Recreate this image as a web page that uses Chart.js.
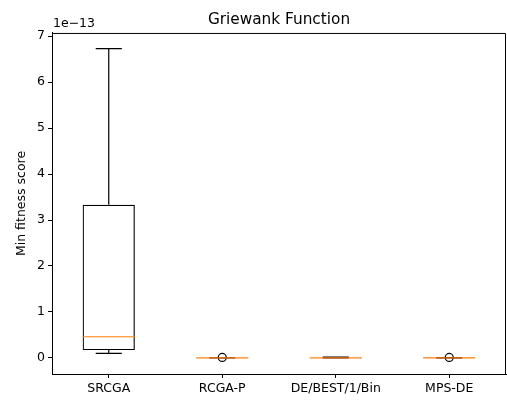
<!DOCTYPE html>
<html>
<head>
<meta charset="utf-8">
<script src="https://cdn.jsdelivr.net/npm/chart.js@4"></script>
<style>
  html, body { margin: 0; padding: 0; background: #fff; }
  #wrap { width: 507px; height: 401px; }
</style>
</head>
<body>
<div id="wrap"><canvas id="box-chart"></canvas></div>
<script>
// values are in units of 1e-13
const categories = ["SRCGA", "RCGA-P", "DE/BEST/1/Bin", "MPS-DE"];
const whiskerLow = [0.10, 0, 0, 0];
const q1 = [0.17, 0, 0, 0];
const median = [0.46, 0, 0, 0];
const q3 = [3.33, 0, 0, 0.005];
const whiskerHigh = [6.73, 0.003, 0.02, 0.008];
const outliers = [null, 0.01, null, 0.01];
const yTicks = [0, 1, 2, 3, 4, 5, 6, 7];

const FONT = "'DejaVu Sans', sans-serif";

// whiskers, caps, medians and the top/right frame
const boxExtras = {
    id: "boxExtras",
    afterDatasetsDraw(chart) {
        const ctx = chart.ctx;
        const x = chart.scales.x, y = chart.scales.y;
        const half = chart.getDatasetMeta(0).data[0].width / 2;
        ctx.save();
        ctx.lineWidth = 1.2;
        categories.forEach((c, i) => {
            const cx = x.getPixelForValue(i);
            const yq1 = y.getPixelForValue(q1[i]);
            const yq3 = y.getPixelForValue(q3[i]);
            const ylo = y.getPixelForValue(whiskerLow[i]);
            const yhi = y.getPixelForValue(whiskerHigh[i]);
            ctx.strokeStyle = "#000";
            ctx.beginPath();
            ctx.moveTo(cx, yq3); ctx.lineTo(cx, yhi);
            ctx.moveTo(cx, yq1); ctx.lineTo(cx, ylo);
            ctx.moveTo(cx - half / 2, yhi); ctx.lineTo(cx + half / 2, yhi);
            ctx.moveTo(cx - half / 2, ylo); ctx.lineTo(cx + half / 2, ylo);
            ctx.stroke();
            ctx.strokeStyle = "#ff7f0e";
            const ym = y.getPixelForValue(median[i]);
            ctx.beginPath();
            ctx.moveTo(cx - half, ym); ctx.lineTo(cx + half, ym);
            ctx.stroke();
        });
        const a = chart.chartArea;
        ctx.strokeStyle = "#000";
        ctx.lineWidth = 1;
        ctx.beginPath();
        ctx.moveTo(a.left, a.top + 0.5); ctx.lineTo(a.right - 0.5, a.top + 0.5); ctx.lineTo(a.right - 0.5, a.bottom);
        ctx.stroke();
        ctx.fillStyle = "#000";
        ctx.font = "12.5px " + FONT;
        ctx.textAlign = "left";
        ctx.textBaseline = "alphabetic";
        ctx.fillText("1e\u221213", a.left + 1, 27);
        ctx.restore();
    }
};

new Chart(document.getElementById("box-chart"), {
    type: "bar",
    data: {
        labels: categories,
        datasets: [
            {
                label: "box",
                data: categories.map((c, i) => [q1[i], q3[i]]),
                backgroundColor: "rgba(0,0,0,0)",
                borderColor: "#000",
                borderWidth: 1.2,
                borderSkipped: false,
                barPercentage: 0.46,
                categoryPercentage: 1
            },
            {
                type: "line",
                label: "outliers",
                data: outliers,
                showLine: false,
                pointRadius: 4,
                pointBorderWidth: 1.2,
                pointBorderColor: "#000",
                pointBackgroundColor: "rgba(0,0,0,0)"
            }
        ]
    },
    plugins: [boxExtras],
    options: {
        responsive: true,
        maintainAspectRatio: false,
        animation: false,
        layout: { autoPadding: false, padding: { left: 10, right: 1, top: 0, bottom: 0 } },
        plugins: {
            legend: { display: false },
            tooltip: { enabled: false },
            title: {
                display: true,
                fullSize: false,
                text: "Griewank Function",
                color: "#000",
                font: { family: FONT, size: 15.3, weight: "normal" },
                padding: { top: 11, bottom: 3.6 }
            }
        },
        scales: {
            x: {
                offset: true,
                grid: { offset: false, drawOnChartArea: false, drawTicks: true, tickLength: 4, color: "#000" },
                border: { color: "#000", width: 1 },
                ticks: { color: "#000", font: { family: FONT, size: 12.5 }, padding: 3, maxRotation: 0 },
                afterFit(s) { s.height = 27; s.paddingLeft = 0; s.paddingRight = 0; }
            },
            y: {
                min: -0.35,
                max: 7.07,
                afterBuildTicks(s) { s.ticks = yTicks.map(v => ({ value: v })); },
                grid: { drawOnChartArea: false, drawTicks: true, tickLength: 4, color: "#000" },
                border: { color: "#000", width: 1 },
                ticks: { color: "#000", font: { family: FONT, size: 12.5 }, padding: 3 },
                title: {
                    display: true,
                    text: "Min fitness score",
                    color: "#000",
                    font: { family: FONT, size: 12.5 },
                    padding: { top: 4, bottom: 4 }
                },
                afterFit(s) { s.width = 42; s.paddingTop = 0; s.paddingBottom = 0; }
            }
        }
    }
});
</script>
</body>
</html>
